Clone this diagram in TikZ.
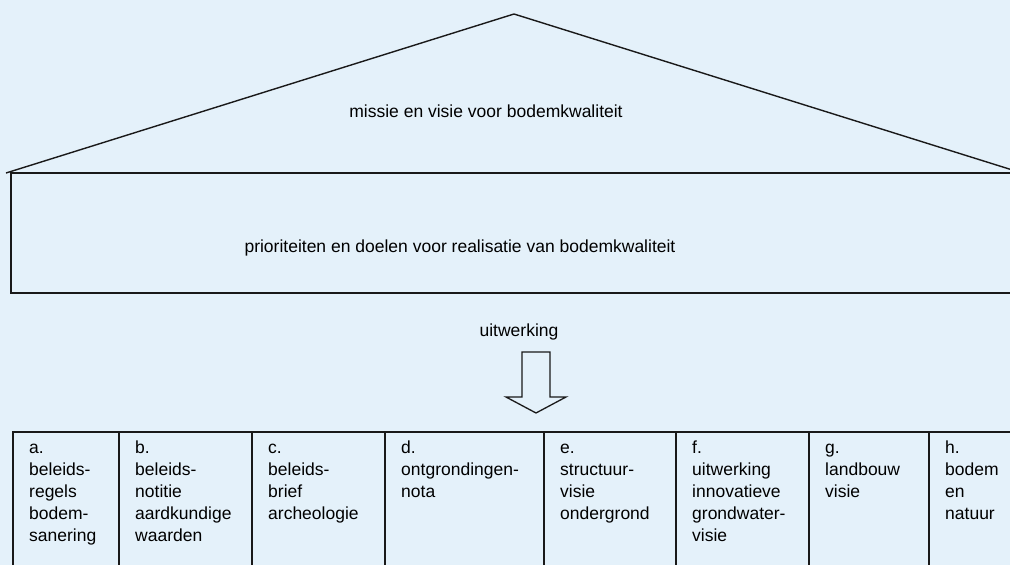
\documentclass[tikz,border=0pt]{standalone}
\usepackage{fontspec}
\setmainfont{Liberation Sans}
\usetikzlibrary{positioning,calc}
\definecolor{lichtblauw}{RGB}{228,241,250}
\definecolor{lijn}{RGB}{25,25,25}

\begin{document}
\begin{tikzpicture}[x=1pt, y=-1pt,
    font=\fontsize{17.5}{21}\selectfont,
    vak/.style={draw=lijn, line width=1.8pt, outer sep=0pt, inner sep=0pt, minimum height=160pt, anchor=north west},
    vaktekst/.style={anchor=north west, align=left, inner xsep=16pt, inner ysep=6pt, font=\fontsize{17.5}{22}\selectfont},
    ] 
    \useasboundingbox (0,0) rectangle (1010,565);
    \fill[lichtblauw] (0,0) rectangle (1010,565);
    \clip (0,0) rectangle (1010,565);

    \coordinate (dakL) at (6,173);
    \coordinate (nok) at (514,14);
    \coordinate (dakR) at (1022,173);
    \draw[lijn, line width=1.4pt] (dakL) -- (nok) -- (dakR);
    \node (missie) at (486,111) {missie en visie voor bodemkwaliteit};

    \node[vak, minimum width=1030pt, minimum height=120pt] (prio) at (11,173) {};
    \node (prioriteiten) at (460,248) {prioriteiten en doelen voor realisatie van bodemkwaliteit};

    \node (uitw) at (519,332) {uitwerking};
    \coordinate (pijl) at (536,352);
    \draw[lijn, line width=1.3pt, fill=lichtblauw]
        ($(pijl)+(-14,0)$) -- ($(pijl)+(14,0)$) -- ($(pijl)+(14,45)$) -- ($(pijl)+(30,45)$)
        -- ($(pijl)+(0,61)$) -- ($(pijl)+(-30,45)$) -- ($(pijl)+(-14,45)$) -- cycle;

    \node[vak, minimum width=106pt] (a) at (13,432) {};
    \node[vak, minimum width=133pt, right=0pt of a.north east, anchor=north west] (b) {};
    \node[vak, minimum width=133pt, right=0pt of b.north east, anchor=north west] (c) {};
    \node[vak, minimum width=159pt, right=0pt of c.north east, anchor=north west] (d) {};
    \node[vak, minimum width=132pt, right=0pt of d.north east, anchor=north west] (e) {};
    \node[vak, minimum width=133pt, right=0pt of e.north east, anchor=north west] (f) {};
    \node[vak, minimum width=120pt, right=0pt of f.north east, anchor=north west] (g) {};
    \node[vak, minimum width=110pt, right=0pt of g.north east, anchor=north west] (h) {};

    \node[vaktekst] (ta) at (a.north west) {\strut a.\\beleids-\\regels\\bodem-\\sanering};
    \node[vaktekst] (tb) at (b.north west) {\strut b.\\beleids-\\notitie\\aardkundige\\waarden};
    \node[vaktekst] (tc) at (c.north west) {\strut c.\\beleids-\\brief\\archeologie};
    \node[vaktekst] (td) at (d.north west) {\strut d.\\ontgrondingen-\\nota};
    \node[vaktekst] (te) at (e.north west) {\strut e.\\structuur-\\visie\\ondergrond};
    \node[vaktekst] (tf) at (f.north west) {\strut f.\\uitwerking\\innovatieve\\grondwater-\\visie};
    \node[vaktekst] (tg) at (g.north west) {\strut g.\\landbouw\\visie};
    \node[vaktekst] (th) at (h.north west) {\strut h.\\bodem\\en\\natuur};
\end{tikzpicture}
\end{document}
